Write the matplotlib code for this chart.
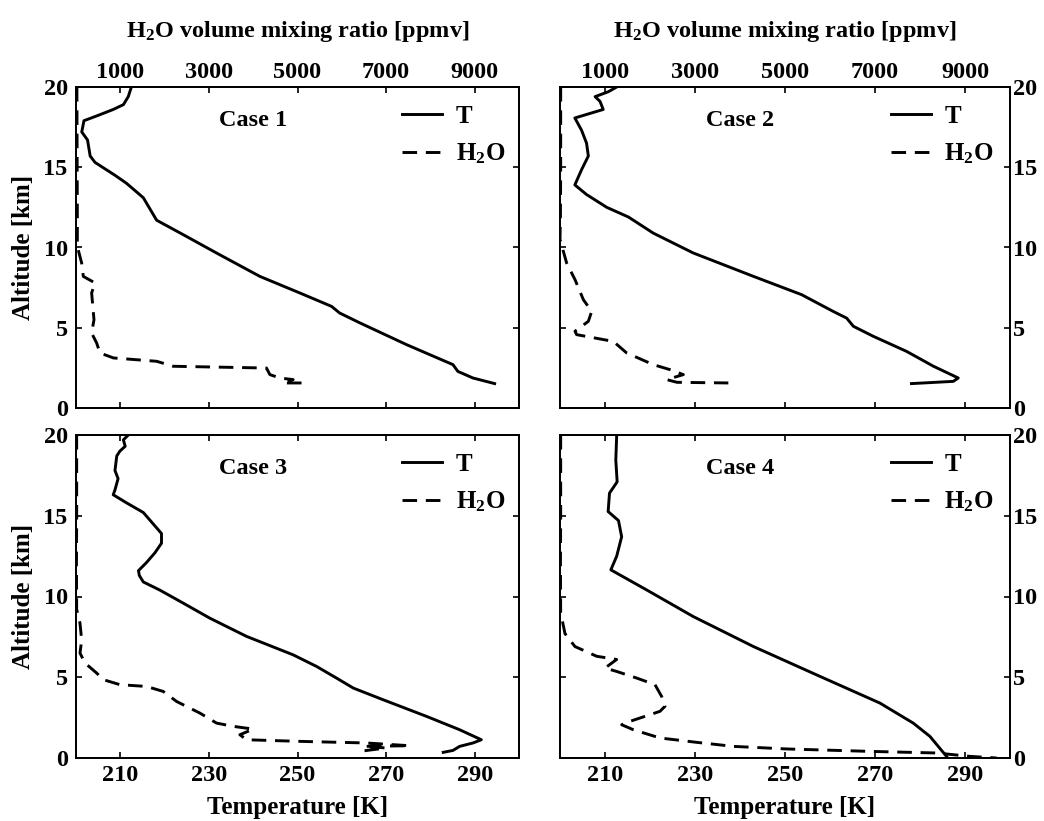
import numpy as np
import matplotlib
matplotlib.use("Agg")
import matplotlib.pyplot as plt

plt.rcParams["font.family"]=["Liberation Serif","DejaVu Serif"]
plt.rcParams["font.weight"]="bold"
plt.rcParams["axes.labelweight"]="bold"
plt.rcParams["mathtext.fontset"]="custom"
plt.rcParams["mathtext.rm"]="Liberation Serif:bold"
plt.rcParams["mathtext.it"]="Liberation Serif:bold"
plt.rcParams["mathtext.bf"]="Liberation Serif:bold"
plt.rcParams["mathtext.default"]="rm"

# temperature profiles (K) vs altitude (km)
case1_t=[212.5,211.8,210.7,208.4,204.7,201.8,201.3,202.6,203.2,204.3,208.8,211.4,215.2,218.2,224.2,231.7,241.5,250.5,257.7,259.5,264.1,274.6,285.1,286.2,289.6,294.5]
case1_t_alt=[20.0,19.4,18.9,18.6,18.2,17.9,17.2,16.7,15.7,15.3,14.5,14.0,13.1,11.7,10.8,9.66,8.2,7.17,6.33,5.92,5.3,3.95,2.7,2.28,1.87,1.52]

case2_t=[212.6,210.7,207.8,208.9,209.6,203.3,204.8,205.9,206.3,204.8,203.3,205.9,210.4,215.2,220.7,229.6,243.0,253.7,260.7,263.7,265.2,269.6,277.0,283.0,288.5,287.4,278.1]
case2_t_alt=[20.0,19.7,19.4,19.1,18.6,18.07,17.3,16.5,15.7,14.85,13.9,13.3,12.5,11.9,10.9,9.66,8.2,7.06,6.02,5.6,5.09,4.47,3.53,2.6,1.87,1.66,1.52]

case3_t=[211.8,210.7,211.1,209.9,209.2,208.8,209.5,208.8,208.4,211.4,215.2,219.3,219.3,217.8,215.9,214.1,214.3,215.2,218.9,224.2,230.2,238.5,249.0,254.3,258.8,262.6,269.3,279.1,286.6,291.5,289.6,286.6,285.1,282.9]
case3_t_alt=[20.0,19.7,19.3,19.0,18.7,17.8,17.3,16.6,16.3,15.8,15.2,13.9,13.3,12.7,12.1,11.6,11.3,10.9,10.4,9.59,8.66,7.53,6.39,5.67,4.95,4.33,3.61,2.58,1.75,1.13,0.93,0.72,0.47,0.35]

case4_t=[212.6,212.4,212.7,211.0,210.7,213.0,213.7,212.6,211.3,219.3,229.6,243.0,257.8,271.1,278.5,282.2,285.9]
case4_t_alt=[20.0,18.45,17.1,16.4,15.26,14.7,13.7,12.5,11.65,10.4,8.76,6.9,5.05,3.4,2.16,1.34,0.1]

# water vapour profiles (ppmv) vs altitude (km)
case1_h2o=[20,25,30,30,128,165,430,353,406,353,466,541,842,1820,2195,4300,4376,4602,4902,4677,5165]
case1_h2o_alt=[20.0,16.0,12.0,10.07,9.03,8.2,7.79,7.17,5.5,4.67,4.05,3.43,3.12,2.91,2.6,2.49,2.08,1.87,1.77,1.56,1.56]

case2_h2o=[15,15,10,0,148,333,519,704,630,481,333,370,1185,1481,2074,2444,2741,2370,2600,3741]
case2_h2o_alt=[20.0,15.0,12.0,10.5,9.03,8.0,6.75,6.02,5.4,5.09,4.78,4.57,4.15,3.43,2.7,2.39,2.08,1.77,1.6,1.56]

case3_h2o=[15,15,10,15,90,128,90,203,466,617,992,1594,1970,2271,2797,3173,3549,4000,3699,3850,5053,6556,7534,6500,7000,6400]
case3_h2o_alt=[20.0,15.0,12.0,9.2,8.35,7.3,6.5,5.88,5.26,4.85,4.54,4.43,4.12,3.5,2.78,2.16,1.96,1.79,1.44,1.13,1.03,0.93,0.76,0.72,0.62,0.41]

case4_h2o=[15,15,10,15,111,333,815,1259,1000,1259,1704,2111,2259,2333,2222,1556,1370,1630,2222,3037,3852,5037,6889,8370,9111,9704]
case4_h2o_alt=[20.0,15.0,12.0,9.0,7.7,6.9,6.3,6.1,5.57,5.36,4.95,4.54,3.81,3.2,2.89,2.27,2.06,1.75,1.24,0.97,0.72,0.56,0.41,0.31,0.1,0.0]

t_ticks=[210,230,250,270,290]
h2o_ticks=[1000,3000,5000,7000,9000]
alt_ticks=[0,5,10,15,20]

W=1044
H=821


def panel(fig,rect,t,t_alt,h2o,h2o_alt,name,top,left):

    ax=fig.add_axes(rect)

    ax2=ax.twiny()

    l1,=ax.plot(t,t_alt,color="black",lw=2.1)

    l2,=ax2.plot(h2o,h2o_alt,color="black",lw=2.1,dashes=(5,3))

    ax.set_xlim(200,300)
    ax2.set_xlim(0,10000)
    ax.set_ylim(0,20)

    ax.set_xticks(t_ticks)
    ax2.set_xticks(h2o_ticks)
    ax.set_yticks(alt_ticks)

    for a in (ax,ax2):
        for s in a.spines.values():
            s.set_linewidth(1.3)

    ax.tick_params(
        axis="both",
        direction="in",
        length=4,
        width=1.2,
        labelsize=17.5,
        left=True,
        right=True
    )

    ax2.tick_params(
        axis="x",
        direction="in",
        length=4,
        width=1.2,
        labelsize=17.5,
        pad=3
    )

    if top:
        ax.tick_params(labelbottom=False)
        ax2.set_xlabel("H$_2$O volume mixing ratio [ppmv]",fontsize=17.5,labelpad=18)
    else:
        ax2.tick_params(labeltop=False)
        ax.tick_params(axis="x",pad=5)
        ax.set_xlabel("Temperature [K]",fontsize=18,labelpad=7)

    if left:
        ax.tick_params(axis="y",labelleft=True,labelright=False,pad=6)
        ax.set_ylabel("Altitude [km]",fontsize=18,labelpad=6)
    else:
        ax.tick_params(axis="y",labelleft=False,labelright=True,pad=2)

    ax.text(0.40,0.895,name,transform=ax.transAxes,
            fontsize=17.5,ha="center",va="center")

    ax.legend(
        [l1,l2],
        ["T","H$_2$O"],
        loc="upper left",
        bbox_to_anchor=(0.685,1.015),
        frameon=False,
        fontsize=18,
        handlelength=1.6,
        handletextpad=0.55,
        labelspacing=0.55
    )


fig=plt.figure(figsize=(W/100,H/100),dpi=100)

panel(fig,[76/W,1-408/H,443/W,321/H],case1_t,case1_t_alt,case1_h2o,case1_h2o_alt,"Case 1",True,True)
panel(fig,[560/W,1-408/H,450/W,321/H],case2_t,case2_t_alt,case2_h2o,case2_h2o_alt,"Case 2",True,False)
panel(fig,[76/W,1-758/H,443/W,323/H],case3_t,case3_t_alt,case3_h2o,case3_h2o_alt,"Case 3",False,True)
panel(fig,[560/W,1-758/H,450/W,323/H],case4_t,case4_t_alt,case4_h2o,case4_h2o_alt,"Case 4",False,False)

fig.savefig("out.png",dpi=100)
